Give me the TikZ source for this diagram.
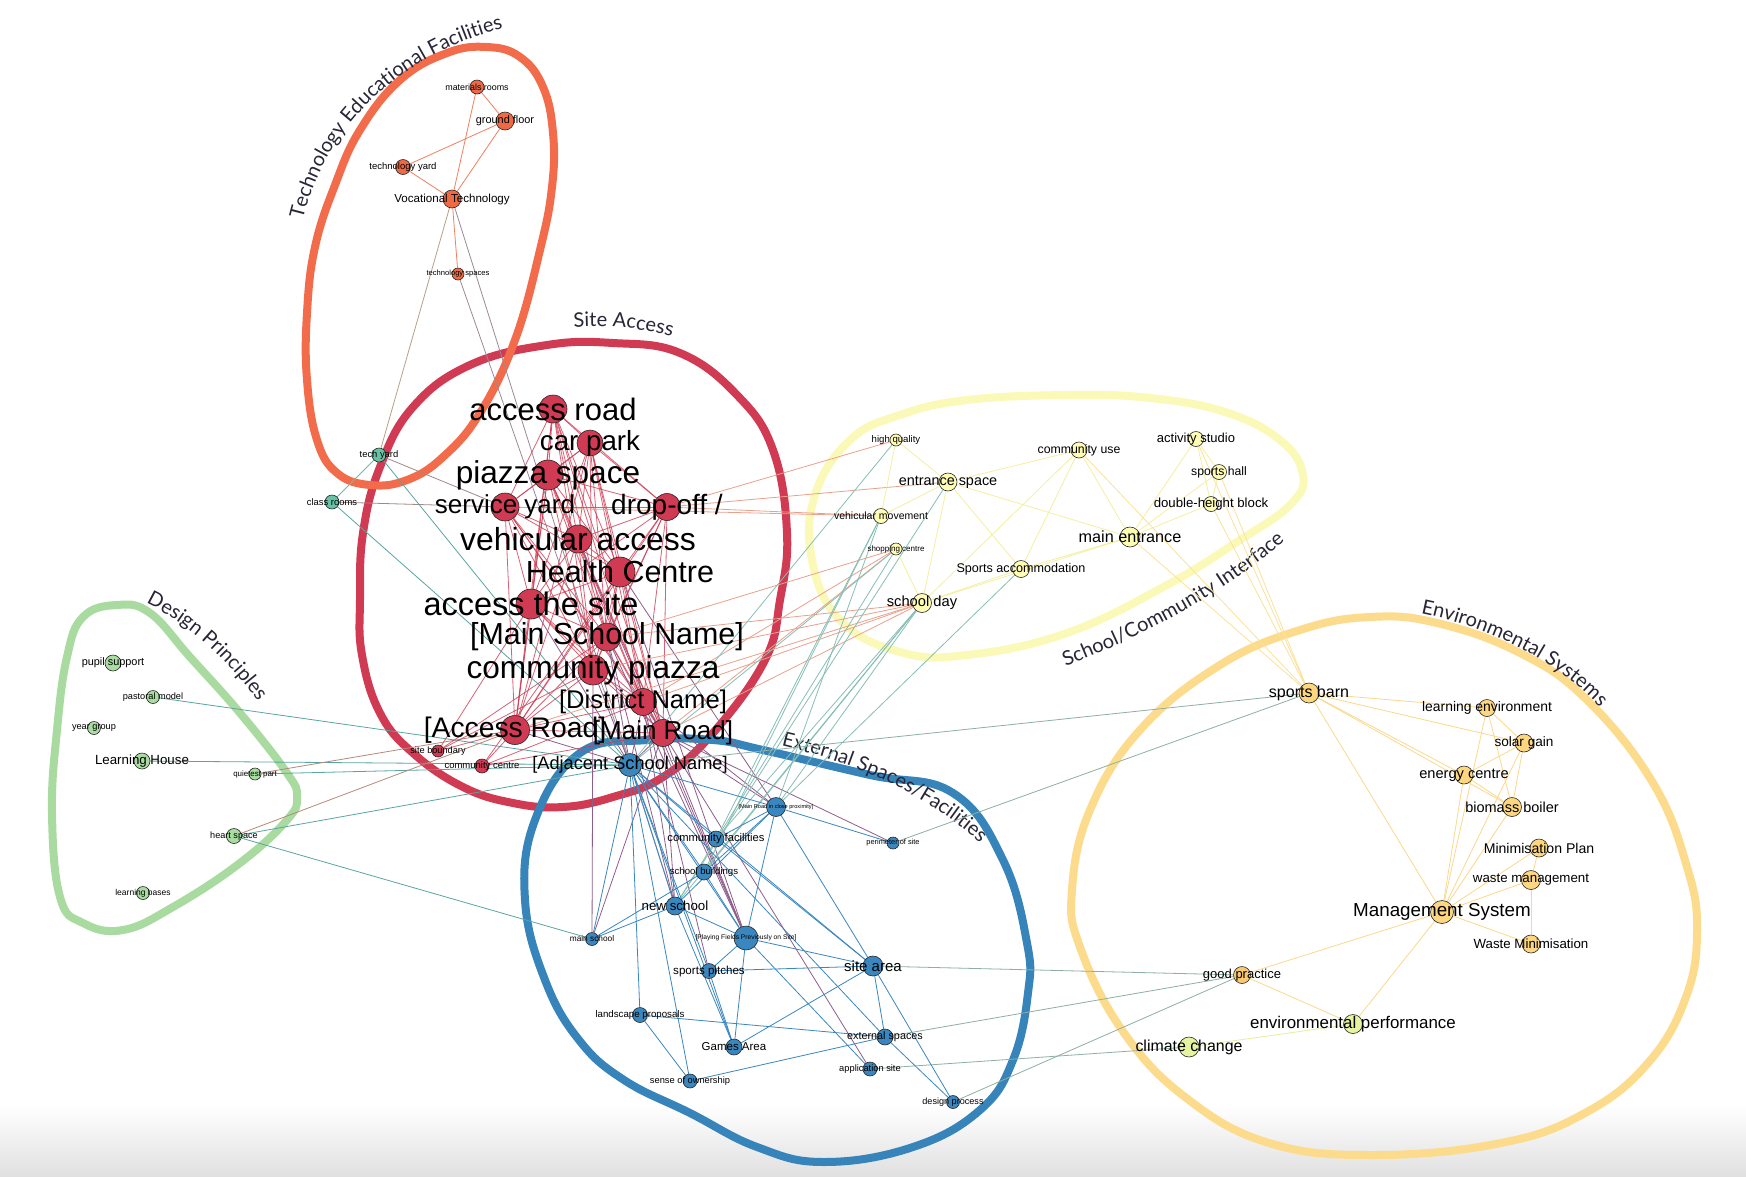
\documentclass[tikz,border=0pt]{standalone}
\usepackage{fontspec}
\setmainfont{Liberation Sans}
\newfontfamily\hullfont{Lato}
\usetikzlibrary{decorations.text}
\pgfdeclarelayer{back}\pgfdeclarelayer{hull}\pgfdeclarelayer{edges}\pgfdeclarelayer{top}
\pgfsetlayers{back,hull,edges,main,top}
\definecolor{cTech}{HTML}{EE6A45}
\definecolor{cTechHull}{HTML}{F26C4C}
\definecolor{cSite}{HTML}{D03A52}
\definecolor{cTeal}{HTML}{66C2A5}
\definecolor{cGreen}{HTML}{A8DCA0}
\definecolor{cGreenHull}{HTML}{A9DBA1}
\definecolor{cYel}{HTML}{FFFCB5}
\definecolor{cYelHull}{HTML}{FBF9B8}
\definecolor{cEnv}{HTML}{FCD680}
\definecolor{cEnvHull}{HTML}{FCDC8C}
\definecolor{cLime}{HTML}{E6F3A0}
\definecolor{cGood}{HTML}{F9C874}
\definecolor{cBlue}{HTML}{3A87BF}
\definecolor{cBlueHull}{HTML}{3784BB}
\definecolor{hulltxt}{HTML}{262636}
\definecolor{eOrg}{HTML}{F08060}
\definecolor{eSal}{HTML}{EBA08C}
\definecolor{ePur}{HTML}{8E5E8A}
\definecolor{eTea}{HTML}{86BFB5}
\definecolor{eTgn}{HTML}{58A6A0}
\definecolor{eBrn}{HTML}{B58A78}
\definecolor{eGbr}{HTML}{A08888}
\definecolor{eTan}{HTML}{B8A088}
\definecolor{eGry}{HTML}{9A8A98}
\definecolor{eYel}{HTML}{F5EFA0}
\definecolor{eEnv}{HTML}{FAD98C}
\definecolor{eYen}{HTML}{FBE29A}
\definecolor{eGg}{HTML}{8DB0A0}
\tikzset{
  nodec/.style={circle,draw=black!85,line width=0.6pt,inner sep=0pt},
  lbl/.style={inner sep=0pt,text=black},
  ed/.style={line width=0.8pt},
  hullline/.style={line width=8pt,line join=round},
}
\newcommand\nd[7]{%
  \node[nodec,fill=#5,minimum size=#4pt] (#1) at (#2,#3) {};
  \begin{pgfonlayer}{top}\node[lbl,font=\fontsize{#6}{#6}\selectfont] (#1l) at (#2,#3) {#7};\end{pgfonlayer}}
\newcommand\hulltext[2]{\path[decorate,decoration={text along path,text align=center,text={|\hullfont\fontsize{20}{24}\selectfont\color{hulltxt}|#1}}] #2;}
\begin{document}
\begin{tikzpicture}[x=1pt,y=-1pt]
\begin{pgfonlayer}{back}
\fill[white] (0,0) rectangle (1746,1176);
\shade[top color=white,bottom color=black!12] (0,1105) rectangle (1746,1176);
\end{pgfonlayer}
\useasboundingbox (0,0) rectangle (1746,1176);
% ---------- nodes
\nd{matr}{477}{87}{14}{cTech}{8.9}{materials rooms}
\nd{gfl}{505}{121}{18}{cTech}{10.9}{ground floor}
\nd{tyd}{403}{167}{15}{cTech}{9.5}{technology yard}
\nd{vtec}{452}{199}{18}{cTech}{11.6}{Vocational Technology}
\nd{tsp}{458}{274}{12}{cTech}{7.6}{technology spaces}
\nd{acrd}{553}{409}{28}{cSite}{31}{access road}
\nd{cpk}{590}{443}{26}{cSite}{27.7}{car park}
\nd{pzs}{548}{475}{30}{cSite}{31.6}{piazza space}
\nd{svy}{505}{507}{28}{cSite}{26}{service yard}
\nd{dro}{667}{507}{27}{cSite}{28}{drop-off /}
\nd{vac}{578}{539}{28}{cSite}{31.9}{vehicular access}
\nd{hcn}{620}{572}{30}{cSite}{30.5}{Health Centre}
\nd{ats}{531}{604}{30}{cSite}{32.5}{access the site}
\nd{msn}{607}{637}{28}{cSite}{30.4}{[Main School Name]}
\nd{cpz}{593}{670}{30}{cSite}{31.6}{community piazza}
\nd{dnm}{643}{702}{27}{cSite}{25.6}{[District Name]}
\nd{arb}{515}{730}{29}{cSite}{28.3}{[Access Road]}
\nd{mrd}{663}{733}{27}{cSite}{26}{[Main Road]}
\nd{sbo}{438}{751}{12}{cSite}{9.2}{site boundary}
\nd{cce}{482}{766}{14}{cSite}{9.5}{community centre}
\nd{tyr}{379}{455}{14}{cTeal}{9.4}{tech yard}
\nd{clr}{332}{502}{14}{cTeal}{9.4}{class rooms}
\nd{pus}{113}{663}{16}{cGreen}{10.9}{pupil support}
\nd{pam}{153}{697}{13}{cGreen}{9.2}{pastoral model}
\nd{ygr}{94}{728}{13}{cGreen}{9.2}{year group}
\nd{lho}{142}{761}{16}{cGreen}{13.3}{Learning House}
\nd{qpt}{255}{774}{12}{cGreen}{7.9}{quietest part}
\nd{hsp}{234}{836}{15}{cGreen}{9.1}{heart space}
\nd{lba}{143}{893}{13}{cGreen}{8.5}{learning bases}
\nd{hqu}{896}{440}{12}{cYel}{9.6}{high quality}
\nd{cus}{1079}{450}{16}{cYel}{12.3}{community use}
\nd{acs}{1196}{439}{15}{cYel}{13}{activity studio}
\nd{shl}{1219}{472}{15}{cYel}{12.2}{sports hall}
\nd{ens}{948}{482}{18}{cYel}{14.4}{entrance space}
\nd{vmv}{881}{516}{15}{cYel}{10.5}{vehicular movement}
\nd{dhb}{1211}{504}{15}{cYel}{13.2}{double-height block}
\nd{men}{1130}{537}{20}{cYel}{16.2}{main entrance}
\nd{shc}{896}{549}{12}{cYel}{8}{shopping centre}
\nd{sac}{1021}{569}{17}{cYel}{12.6}{Sports accommodation}
\nd{sdy}{922}{603}{19}{cYel}{14.7}{school day}
\nd{sbn}{1309}{693}{20}{cEnv}{16}{sports barn}
\nd{lev}{1487}{708}{17}{cEnv}{13.9}{learning environment}
\nd{sgn}{1524}{743}{18}{cEnv}{13.6}{solar gain}
\nd{ecn}{1464}{775}{18}{cEnv}{14.6}{energy centre}
\nd{bbo}{1512}{807}{19}{cEnv}{14.5}{biomass boiler}
\nd{mpl}{1539}{848}{18}{cEnv}{14.1}{Minimisation Plan}
\nd{wmg}{1531}{880}{19}{cEnv}{13.3}{waste management}
\nd{mgs}{1442}{912}{23}{cEnv}{18.8}{Management System}
\nd{wmn}{1531}{944}{18}{cEnv}{13.3}{Waste Minimisation}
\nd{gpr}{1242}{975}{17}{cGood}{13}{good practice}
\nd{epf}{1353}{1024}{19}{cLime}{16.9}{environmental performance}
\nd{ccg}{1189}{1047}{20}{cLime}{15.9}{climate change}
\nd{adj}{630}{765}{23}{cBlue}{18.2}{[Adjacent School Name]}
\nd{mrc}{776}{807}{19}{cBlue}{5.6}{[Main Road in close proximity]}
\nd{pos}{893}{843}{12}{cBlue}{7.4}{perimeter of site}
\nd{cfa}{716}{839}{16}{cBlue}{11.2}{community facilities}
\nd{sbd}{704}{872}{16}{cBlue}{9.6}{school buildings}
\nd{nsc}{675}{906}{18}{cBlue}{13.3}{new school}
\nd{msc}{592}{939}{13}{cBlue}{8.3}{main school}
\nd{pfd}{746}{938}{24}{cBlue}{6.7}{[Playing Fields Previously on Site]}
\nd{sar}{873}{966}{20}{cBlue}{15}{site area}
\nd{spt}{709}{971}{15}{cBlue}{11.6}{sports pitches}
\nd{lpr}{640}{1015}{15}{cBlue}{9.7}{landscape proposals}
\nd{gar}{734}{1047}{16}{cBlue}{11.5}{Games Area}
\nd{exs}{885}{1037}{16}{cBlue}{10.8}{external spaces}
\nd{aps}{870}{1069}{14}{cBlue}{9.3}{application site}
\nd{soo}{690}{1081}{14}{cBlue}{9.3}{sense of ownership}
\nd{dpr}{953}{1102}{13}{cBlue}{9.1}{design process}
% ---------- hulls
\begin{pgfonlayer}{hull}
\draw[hullline,cSite] plot[smooth cycle,tension=0.7] coordinates {(547,345) (613,343) (680,353) (737,395) (773,450) (787,533) (780,600) (765,660) (713,733) (663,777) (613,797) (563,807) (513,803) (463,787) (413,753) (380,713) (362,655) (360,600) (363,533) (380,467) (413,407) (470,365)};
\draw[hullline,cTechHull] plot[smooth cycle,tension=0.7] coordinates {(487,47) (520,57) (543,87) (553,133) (552,187) (540,250) (515,340) (480,413) (443,457) (407,480) (370,485) (337,473) (317,440) (307,380) (307,313) (315,247) (335,185) (360,130) (400,80) (447,53)};
\draw[hullline,cYelHull] plot[smooth cycle,tension=0.7] coordinates {(850,440) (900,415) (967,400) (1069,395) (1150,398) (1225,412) (1280,440) (1303,475) (1290,505) (1240,540) (1167,585) (1067,633) (967,655) (900,652) (840,620) (812,560) (815,495)};
\draw[hullline,cGreenHull] plot[smooth cycle,tension=0.7] coordinates {(83,617) (117,605) (150,613) (190,657) (240,713) (287,773) (297,797) (287,820) (240,863) (173,907) (123,930) (83,923) (60,897) (52,813) (57,730) (67,657)};
\draw[hullline,cEnvHull] plot[smooth cycle,tension=0.7] coordinates {(1072,890) (1080,947) (1122,1030) (1185,1097) (1269,1143) (1375,1155) (1501,1143) (1585,1113) (1648,1063) (1686,997) (1697,930) (1687,867) (1653,783) (1587,700) (1520,653) (1437,623) (1370,617) (1300,630) (1220,665) (1140,730) (1090,810)};
\draw[hullline,cBlueHull] plot[smooth cycle,tension=0.7] coordinates {(580,753) (647,740) (713,740) (763,750) (870,775) (953,793) (1003,860) (1027,943) (1028,993) (1013,1060) (980,1110) (913,1147) (824,1162) (757,1147) (690,1113) (624,1080) (579,1040) (545,980) (525,900) (535,820)};
\hulltext{Technology Educational Facilities}{(300,235) .. controls (318,130) and (400,50) .. (518,25)}
\hulltext{Site Access}{(550,330) .. controls (600,322) and (650,328) .. (695,343)}
\hulltext{School/Community Interface}{(1040,676) .. controls (1140,640) and (1235,590) .. (1305,522)}
\hulltext{Design Principles}{(130,596) .. controls (185,618) and (230,660) .. (268,716)}
\hulltext{External Spaces/Facilities}{(765,742) .. controls (850,760) and (935,795) .. (992,855)}
\hulltext{Environmental Systems}{(1402,610) .. controls (1480,622) and (1565,660) .. (1612,722)}
\end{pgfonlayer}
% ---------- edges
\begin{pgfonlayer}{edges}
\foreach \a/\b in {matr/gfl,matr/vtec,gfl/tyd,gfl/vtec,tyd/vtec,vtec/tsp} \draw[ed,eOrg] (\a)--(\b);
\draw[ed,eTan] (vtec)--(tyr);
\foreach \a/\b in {vtec/nsc,tsp/adj} \draw[ed,eGry] (\a)--(\b);
\draw[ed,cTeal] (tyr)--(clr);
\foreach \a/\b in {tyr/svy,clr/svy} \draw[ed,eGbr] (\a)--(\b);
\foreach \a/\b in {tyr/adj,clr/adj,pam/adj,lho/adj,qpt/adj,hsp/adj,hsp/msc} \draw[ed,eTgn] (\a)--(\b);
\foreach \a/\b in {qpt/arb,hsp/arb} \draw[ed,eBrn] (\a)--(\b);
\foreach \a [count=\i] in {acrd,cpk,pzs,svy,dro,vac,hcn,ats,msn,cpz,dnm,arb,mrd}{
  \foreach \b [count=\j] in {acrd,cpk,pzs,svy,dro,vac,hcn,ats,msn,cpz,dnm,arb,mrd}{
    \ifnum\j>\i \draw[ed,cSite,opacity=0.8] (\a)--(\b); \fi}}
\foreach \a/\b in {sbo/arb,sbo/cpz,sbo/ats,sbo/msn,cce/arb,cce/mrd,cce/dnm,cce/hcn} \draw[ed,cSite,opacity=0.8] (\a)--(\b);
\foreach \a/\b in {mrd/mrc,dnm/mrc,hcn/mrc,mrd/pfd,dnm/pfd,msn/pfd,vac/pfd,hcn/pfd,cpz/msc,mrd/msc,dnm/nsc,mrd/nsc,msn/nsc,mrd/pos,mrd/aps,dnm/spt,adj/ats,adj/msn,adj/cpz,adj/arb,adj/mrd,adj/dnm} \draw[ed,ePur] (\a)--(\b);
\foreach \a/\b in {dro/hqu,dro/ens,dro/vmv,svy/vmv,dnm/shc,mrd/shc,msn/shc,dnm/sdy,mrd/sdy,cpz/sdy,msn/sdy,arb/sdy} \draw[ed,eSal] (\a)--(\b);
\foreach \a/\b in {hqu/adj,ens/nsc,vmv/sbd,vmv/cfa,vmv/mrc,shc/nsc,shc/adj,sdy/cfa,sdy/sbd,sdy/nsc,sdy/mrc,sac/mrc} \draw[ed,eTea] (\a)--(\b);
\foreach \a/\b in {sbn/adj,sbn/pos,gpr/sar,gpr/exs,gpr/dpr,ccg/aps} \draw[ed,eGg] (\a)--(\b);
\foreach \a/\b in {hqu/ens,hqu/vmv,ens/cus,ens/men,ens/sac,ens/sdy,ens/vmv,cus/sdy,cus/sac,cus/men,men/sac,men/sdy,men/acs,men/shl,men/dhb,acs/shl,acs/dhb,shl/dhb,shc/sdy,sac/sdy} \draw[ed,eYel] (\a)--(\b);
\foreach \a/\b in {acs/sbn,shl/sbn,dhb/sbn,men/sbn,cus/sbn} \draw[ed,eYen] (\a)--(\b);
\foreach \a/\b in {sbn/lev,sbn/sgn,sbn/ecn,sbn/bbo,sbn/mgs,lev/sgn,lev/bbo,lev/mgs,sgn/ecn,sgn/bbo,sgn/mgs,ecn/bbo,ecn/mgs,bbo/mgs,mpl/mgs,mpl/wmg,wmg/mgs,wmg/wmn,mgs/wmn,mgs/gpr,mgs/epf,gpr/epf} \draw[ed,eEnv] (\a)--(\b);
\draw[ed,cLime!80!eEnv] (epf)--(ccg);
\foreach \a/\b in {adj/msc,adj/lpr,adj/soo,adj/nsc,adj/sbd,adj/cfa,adj/mrc,adj/pfd,adj/sar,adj/gar,adj/spt,adj/exs,mrc/cfa,mrc/sbd,mrc/nsc,mrc/pfd,mrc/pos,mrc/sar,nsc/msc,nsc/pfd,nsc/gar,sbd/pfd,sbd/msc,pfd/spt,pfd/gar,pfd/sar,pfd/aps,spt/sar,spt/gar,sar/gar,sar/exs,sar/dpr,lpr/exs,lpr/soo,soo/exs,exs/dpr,cfa/sar} \draw[ed,cBlue] (\a)--(\b);
\end{pgfonlayer}
\end{tikzpicture}
\end{document}
